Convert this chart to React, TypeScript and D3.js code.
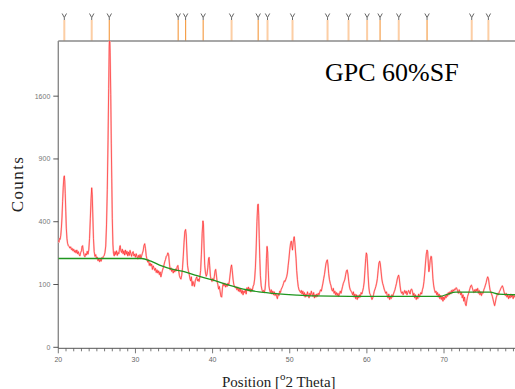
import React from "react";
import * as d3 from "d3";

// Diffractogram of the GPC 60%SF sample: counts against 2θ (Cu Kα)
const observed: [number, number][] = [
  [20.0, 292], [20.08, 280], [20.16, 300], [20.24, 296], [20.32, 318], [20.4, 360], [20.48, 430], [20.56, 540],
  [20.64, 650], [20.72, 730], [20.78, 745], [20.84, 700], [20.9, 600], [20.97, 470], [21.04, 360], [21.12, 300],
  [21.2, 275], [21.3, 262], [21.4, 258], [21.5, 250], [21.6, 256], [21.7, 242], [21.8, 248], [21.9, 236],
  [22.0, 244], [22.1, 230], [22.2, 238], [22.3, 226], [22.4, 240], [22.5, 222], [22.6, 232], [22.7, 218],
  [22.8, 212], [22.9, 228], [23.0, 236], [23.08, 258], [23.15, 262], [23.25, 232], [23.35, 214], [23.45, 208],
  [23.55, 222], [23.65, 216], [23.75, 234], [23.85, 220], [23.95, 240], [24.05, 300], [24.15, 420], [24.25, 560],
  [24.33, 645], [24.4, 590], [24.48, 430], [24.56, 300], [24.65, 232], [24.75, 210], [24.85, 218], [24.95, 200],
  [25.05, 206], [25.15, 190], [25.25, 198], [25.35, 186], [25.45, 196], [25.55, 188], [25.65, 204], [25.75, 200],
  [25.85, 210], [25.95, 214], [26.05, 228], [26.15, 260], [26.25, 380], [26.35, 630], [26.45, 1100], [26.53, 1700],
  [26.6, 2300], [26.66, 2500], [26.72, 2200], [26.8, 1620], [26.87, 1050], [26.93, 720], [27.0, 420], [27.08, 270],
  [27.15, 225], [27.25, 212], [27.35, 232], [27.45, 218], [27.55, 236], [27.65, 214], [27.75, 228], [27.85, 222],
  [27.95, 252], [28.02, 262], [28.1, 238], [28.2, 228], [28.3, 244], [28.4, 222], [28.5, 236], [28.6, 216],
  [28.7, 240], [28.8, 220], [28.9, 234], [29.0, 212], [29.1, 230], [29.2, 214], [29.3, 238], [29.4, 222],
  [29.5, 210], [29.6, 226], [29.7, 232], [29.8, 212], [29.9, 220], [30.0, 206], [30.1, 222], [30.2, 210],
  [30.3, 198], [30.4, 214], [30.5, 204], [30.6, 218], [30.7, 200], [30.8, 212], [30.9, 224], [31.0, 236],
  [31.1, 262], [31.2, 272], [31.3, 248], [31.4, 212], [31.5, 196], [31.6, 184], [31.7, 194], [31.8, 170],
  [31.9, 180], [32.0, 168], [32.1, 176], [32.2, 154], [32.3, 168], [32.4, 160], [32.5, 150], [32.6, 158],
  [32.7, 142], [32.8, 152], [32.9, 140], [33.0, 148], [33.1, 134], [33.2, 144], [33.3, 126], [33.4, 138],
  [33.5, 150], [33.6, 160], [33.7, 172], [33.8, 186], [33.9, 196], [34.0, 210], [34.1, 214], [34.2, 226],
  [34.3, 218], [34.4, 180], [34.5, 152], [34.6, 160], [34.7, 146], [34.8, 154], [34.9, 140], [35.0, 150],
  [35.1, 144], [35.2, 156], [35.3, 148], [35.4, 164], [35.5, 170], [35.6, 150], [35.7, 130], [35.8, 122],
  [35.9, 118], [36.0, 132], [36.1, 160], [36.2, 210], [36.3, 280], [36.4, 340], [36.5, 352], [36.58, 320],
  [36.66, 240], [36.75, 170], [36.85, 150], [36.95, 138], [37.05, 122], [37.15, 112], [37.25, 126], [37.35, 96],
  [37.45, 110], [37.55, 102], [37.65, 94], [37.75, 112], [37.85, 120], [37.95, 126], [38.05, 112], [38.15, 118],
  [38.25, 110], [38.35, 126], [38.45, 150], [38.55, 220], [38.65, 330], [38.75, 405], [38.82, 380], [38.9, 250],
  [38.98, 170], [39.08, 140], [39.18, 128], [39.28, 136], [39.38, 160], [39.48, 200], [39.55, 205], [39.62, 170],
  [39.72, 128], [39.82, 116], [39.92, 110], [40.02, 120], [40.12, 112], [40.22, 126], [40.32, 148], [40.4, 154],
  [40.48, 136], [40.58, 110], [40.68, 100], [40.78, 86], [40.88, 94], [40.98, 78], [41.08, 66], [41.18, 64],
  [41.28, 90], [41.38, 104], [41.48, 96], [41.58, 104], [41.68, 92], [41.78, 100], [41.88, 94], [41.98, 104],
  [42.08, 98], [42.18, 112], [42.28, 136], [42.38, 162], [42.46, 172], [42.55, 150], [42.65, 118], [42.75, 100],
  [42.85, 94], [42.95, 90], [43.05, 92], [43.15, 84], [43.25, 92], [43.35, 80], [43.45, 88], [43.55, 78],
  [43.65, 86], [43.75, 74], [43.85, 82], [43.95, 70], [44.05, 80], [44.15, 76], [44.25, 84], [44.35, 72],
  [44.45, 90], [44.55, 82], [44.65, 92], [44.75, 80], [44.85, 88], [44.95, 78], [45.05, 86], [45.15, 82],
  [45.25, 94], [45.35, 100], [45.45, 118], [45.55, 160], [45.65, 250], [45.75, 400], [45.85, 515], [45.92, 520],
  [45.98, 440], [46.05, 300], [46.12, 200], [46.2, 130], [46.3, 96], [46.4, 84], [46.5, 78], [46.6, 82],
  [46.7, 76], [46.8, 86], [46.9, 120], [46.98, 200], [47.06, 258], [47.14, 230], [47.22, 150], [47.3, 96],
  [47.4, 82], [47.5, 76], [47.6, 84], [47.7, 72], [47.8, 80], [47.9, 70], [48.0, 78], [48.1, 68],
  [48.2, 74], [48.3, 66], [48.4, 60], [48.5, 72], [48.6, 68], [48.7, 80], [48.8, 76], [48.9, 86],
  [49.0, 90], [49.1, 96], [49.2, 104], [49.3, 112], [49.4, 110], [49.5, 118], [49.6, 126], [49.7, 140],
  [49.8, 170], [49.9, 200], [50.0, 240], [50.1, 272], [50.2, 286], [50.28, 262], [50.36, 240], [50.44, 276],
  [50.52, 300], [50.58, 310], [50.66, 280], [50.74, 235], [50.82, 200], [50.9, 150], [51.0, 116], [51.1, 94],
  [51.2, 84], [51.3, 80], [51.4, 76], [51.5, 82], [51.6, 72], [51.7, 80], [51.8, 68], [51.9, 76],
  [52.0, 64], [52.1, 72], [52.2, 66], [52.3, 78], [52.4, 70], [52.5, 62], [52.6, 74], [52.7, 68],
  [52.8, 80], [52.9, 72], [53.0, 66], [53.1, 76], [53.2, 62], [53.3, 70], [53.4, 64], [53.5, 72],
  [53.6, 66], [53.7, 74], [53.8, 70], [53.9, 78], [54.0, 84], [54.1, 80], [54.2, 92], [54.3, 104],
  [54.4, 120], [54.5, 134], [54.6, 156], [54.7, 178], [54.8, 190], [54.88, 194], [54.96, 172], [55.05, 138],
  [55.15, 116], [55.25, 104], [55.35, 96], [55.45, 84], [55.55, 80], [55.65, 88], [55.75, 74], [55.85, 80],
  [55.95, 70], [56.05, 76], [56.15, 68], [56.25, 74], [56.35, 66], [56.45, 72], [56.55, 80], [56.65, 74],
  [56.75, 84], [56.85, 94], [56.95, 104], [57.05, 110], [57.15, 118], [57.25, 134], [57.35, 148], [57.45, 152],
  [57.55, 136], [57.65, 110], [57.75, 92], [57.85, 84], [57.95, 80], [58.05, 76], [58.15, 70], [58.25, 78],
  [58.35, 64], [58.45, 72], [58.55, 60], [58.65, 70], [58.75, 58], [58.85, 68], [58.95, 62], [59.05, 70],
  [59.15, 64], [59.25, 76], [59.35, 72], [59.45, 80], [59.55, 90], [59.65, 108], [59.75, 150], [59.85, 200],
  [59.93, 226], [60.0, 218], [60.08, 180], [60.16, 130], [60.26, 90], [60.36, 74], [60.46, 70], [60.56, 64],
  [60.66, 58], [60.76, 62], [60.86, 70], [60.96, 80], [61.06, 86], [61.16, 94], [61.26, 104], [61.36, 120],
  [61.46, 150], [61.56, 180], [61.66, 188], [61.74, 176], [61.84, 146], [61.94, 118], [62.04, 104], [62.14, 96],
  [62.24, 86], [62.34, 80], [62.44, 74], [62.54, 78], [62.64, 68], [62.74, 62], [62.84, 72], [62.94, 58],
  [63.04, 66], [63.14, 60], [63.24, 70], [63.34, 64], [63.44, 72], [63.54, 78], [63.64, 84], [63.74, 94],
  [63.84, 104], [63.94, 118], [64.04, 128], [64.12, 132], [64.2, 120], [64.3, 96], [64.4, 80], [64.5, 74],
  [64.6, 78], [64.7, 70], [64.8, 76], [64.9, 82], [65.0, 74], [65.1, 80], [65.2, 70], [65.3, 76],
  [65.4, 82], [65.5, 78], [65.6, 72], [65.7, 84], [65.8, 86], [65.9, 80], [66.0, 68], [66.1, 74],
  [66.2, 62], [66.3, 70], [66.4, 58], [66.5, 66], [66.6, 60], [66.7, 72], [66.8, 64], [66.9, 70],
  [67.0, 76], [67.1, 72], [67.2, 84], [67.3, 92], [67.4, 110], [67.5, 140], [67.6, 180], [67.7, 220],
  [67.8, 240], [67.88, 232], [67.96, 180], [68.04, 145], [68.12, 160], [68.2, 190], [68.3, 210], [68.38, 208],
  [68.46, 170], [68.56, 120], [68.66, 96], [68.76, 84], [68.86, 76], [68.96, 80], [69.06, 70], [69.16, 76],
  [69.26, 64], [69.36, 72], [69.46, 60], [69.56, 68], [69.66, 58], [69.76, 66], [69.86, 54], [69.96, 64],
  [70.06, 58], [70.16, 68], [70.26, 62], [70.36, 72], [70.46, 66], [70.56, 76], [70.66, 70], [70.76, 78],
  [70.86, 72], [70.96, 82], [71.06, 76], [71.16, 84], [71.26, 80], [71.36, 86], [71.46, 84], [71.56, 90],
  [71.66, 88], [71.76, 80], [71.86, 74], [71.96, 84], [72.06, 78], [72.16, 70], [72.26, 76], [72.36, 62],
  [72.46, 70], [72.56, 54], [72.66, 64], [72.76, 48], [72.86, 44], [72.96, 56], [73.06, 66], [73.16, 72],
  [73.26, 80], [73.36, 88], [73.46, 96], [73.56, 98], [73.66, 90], [73.76, 82], [73.86, 76], [73.96, 84],
  [74.06, 78], [74.16, 86], [74.26, 80], [74.36, 88], [74.46, 74], [74.56, 82], [74.66, 70], [74.76, 78],
  [74.86, 68], [74.96, 76], [75.06, 74], [75.16, 84], [75.26, 90], [75.36, 98], [75.46, 106], [75.56, 118],
  [75.66, 126], [75.76, 120], [75.86, 100], [75.96, 84], [76.06, 78], [76.16, 72], [76.26, 66], [76.36, 58],
  [76.46, 50], [76.56, 44], [76.66, 52], [76.76, 62], [76.86, 68], [76.96, 74], [77.06, 70], [77.16, 78],
  [77.26, 82], [77.36, 88], [77.46, 92], [77.56, 96], [77.66, 90], [77.76, 80], [77.86, 72], [77.96, 68],
  [78.06, 74], [78.16, 64], [78.26, 70], [78.36, 60], [78.46, 68], [78.56, 62], [78.66, 72], [78.76, 64],
  [78.86, 70], [78.96, 60], [79.06, 68], [79.16, 64], [79.26, 66],
];

// Fitted background under the pattern
const background: [number, number][] = [
  [20, 200], [30.8, 200], [32, 188], [33.4, 168], [35, 153], [36.3, 145], [38, 130], [40, 115],
  [42, 99], [44.4, 84], [46, 78], [47.8, 74], [50.9, 69], [53, 67], [57.8, 66], [69.5, 66],
  [70.5, 72], [71.5, 77], [76, 77], [77, 72], [79.3, 70],
];

// Peak-list positions (°2θ) and relative strength of each reflection
const peakPositions = [
  20.78, 24.33, 26.61, 35.54, 36.5, 38.78, 42.46, 45.91, 47.12, 50.36,
  54.9, 57.62, 60.03, 61.71, 64.13, 67.8, 73.59, 75.75,
];
const peakStrength = [
  30, 30, 100, 80, 60, 80, 30, 60, 30, 30,
  25, 25, 30, 80, 30, 80, 20, 25,
];

const xTicks = [20, 30, 40, 50, 60, 70];
const yTicks = [0, 100, 400, 900, 1600];

const title = "GPC 60%SF";
const yTitle = "Counts";

const W = 515;
const H = 389;
const left = 58.3;
const right = 515;
const top = 41;
const bottom = 347.3;

export default function App() {
  const x = d3.scaleLinear().domain([20, 79.2]).range([left, right]);
  const y = d3.scaleSqrt().domain([0, 2380]).range([bottom, top]);

  const line = d3
    .line<[number, number]>()
    .x((d) => x(d[0]))
    .y((d) => y(d[1]));
  const bgLine = d3
    .line<[number, number]>()
    .x((d) => x(d[0]))
    .y((d) => y(d[1]))
    .curve(d3.curveMonotoneX);

  const minor = d3.range(20, 80, 1).filter((v) => x(v) <= right);
  const tickFont = "'Liberation Sans', Arial, sans-serif";
  const serif = "'Liberation Serif', 'Times New Roman', serif";

  return (
    <svg
      width={W}
      height={H}
      viewBox={`0 0 ${W} ${H}`}
      style={{ position: "absolute", left: 0, top: 0, display: "block", background: "#fff" }}
    >
      <defs>
        <clipPath id="plotClip">
          <rect x={left} y={top} width={right - left} height={bottom - top + 1} />
        </clipPath>
      </defs>

      {/* reference peak markers above the frame */}
      {peakPositions.map((p, i) => {
        const px = x(p);
        const strong = peakStrength[i] >= 60;
        return (
          <g key={`pk${i}`}>
            <line
              x1={px}
              x2={px}
              y1={20}
              y2={top}
              stroke={strong ? "#f5a04c" : "#fcc99b"}
              strokeWidth={strong ? 1.2 : 2}
              opacity={strong ? 1 : 0.9}
            />
            <path
              d={`M${px - 2.2},13.5 L${px},17.5 L${px + 2.2},13.5 M${px},17.5 L${px},20`}
              fill="none"
              stroke="#666"
              strokeWidth={1}
            />
          </g>
        );
      })}

      {/* frame */}
      <line x1={left} x2={right} y1={top} y2={top} stroke="#8a8a8a" strokeWidth={1.5} />
      <line x1={left} x2={left} y1={top} y2={bottom + 1} stroke="#8a8a8a" strokeWidth={1.4} />
      <line x1={left} x2={right} y1={bottom + 1} y2={bottom + 1} stroke="#555" strokeWidth={1} />

      {/* x ticks */}
      {minor.map((v) => (
        <line
          key={`mx${v}`}
          x1={x(v)}
          x2={x(v)}
          y1={bottom + 1}
          y2={bottom + (v % 10 === 0 ? 6 : 4)}
          stroke="#555"
          strokeWidth={0.8}
        />
      ))}
      {xTicks.map((v) => (
        <text
          key={`xl${v}`}
          x={x(v)}
          y={bottom + 15}
          textAnchor="middle"
          fontSize={7}
          fontFamily={tickFont}
          fill="#666"
        >
          {v}
        </text>
      ))}

      {/* y ticks */}
      {yTicks.map((v) => (
        <g key={`yt${v}`}>
          <line x1={left - 5} x2={left} y1={y(v)} y2={y(v)} stroke="#444" strokeWidth={0.9} />
          <text
            x={left - 8}
            y={y(v) + 2.5}
            textAnchor="end"
            fontSize={7}
            fontFamily={tickFont}
            fill="#777"
          >
            {v}
          </text>
        </g>
      ))}

      {/* pattern */}
      <g clipPath="url(#plotClip)">
        <path d={line(observed) || ""} fill="none" stroke="#ffc4c4" strokeWidth={1.7} strokeLinejoin="round" />
        <path d={line(observed) || ""} fill="none" stroke="#ff2020" strokeWidth={0.65} strokeLinejoin="round" />
        <path d={bgLine(background) || ""} fill="none" stroke="#1f961f" strokeWidth={1.3} />
      </g>

      {/* titles */}
      <text x={325} y={81} fontSize={26} fontFamily={serif} fill="#000">
        {title}
      </text>
      <text
        transform={`translate(23,184) rotate(-90)`}
        textAnchor="middle"
        fontSize={17}
        letterSpacing={1.4}
        fontFamily={serif}
        fill="#222"
      >
        {yTitle}
      </text>
      <text x={222} y={387} fontSize={15} fontFamily={serif} fill="#222">
        Position [
        <tspan fontSize={11} dy={-7}>
          o
        </tspan>
        <tspan dy={7}>2 Theta]</tspan>
      </text>
    </svg>
  );
}
